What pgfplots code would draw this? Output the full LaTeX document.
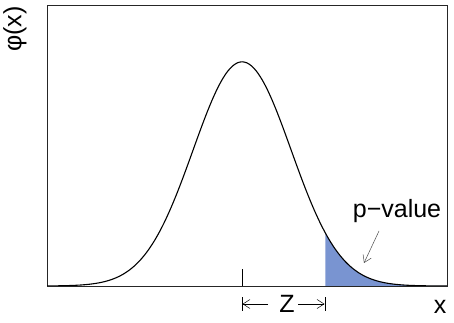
\documentclass[border=0pt]{standalone}
\usepackage{fontspec}
\setmainfont{Liberation Sans}
\usepackage{pgfplots}
\pgfplotsset{compat=1.18}
\usetikzlibrary{arrows.meta}
\definecolor{pfill}{RGB}{121,148,209}
\pgfplotstableread{
x y
-4.2 0.00006
-4.1 0.00009
-4.0 0.00013
-3.9 0.00020
-3.8 0.00029
-3.7 0.00042
-3.6 0.00061
-3.5 0.00087
-3.4 0.00123
-3.3 0.00172
-3.2 0.00238
-3.1 0.00327
-3.0 0.00443
-2.9 0.00595
-2.8 0.00792
-2.7 0.01042
-2.6 0.01358
-2.5 0.01753
-2.4 0.02239
-2.3 0.02833
-2.2 0.03547
-2.1 0.04398
-2.0 0.05399
-1.9 0.06562
-1.8 0.07895
-1.7 0.09405
-1.6 0.11092
-1.5 0.12952
-1.4 0.14973
-1.3 0.17137
-1.2 0.19419
-1.1 0.21785
-1.0 0.24197
-0.9 0.26609
-0.8 0.28969
-0.7 0.31225
-0.6 0.33322
-0.5 0.35207
-0.4 0.36827
-0.3 0.38139
-0.2 0.39104
-0.1 0.39695
0.0 0.39894
0.1 0.39695
0.2 0.39104
0.3 0.38139
0.4 0.36827
0.5 0.35207
0.6 0.33322
0.7 0.31225
0.8 0.28969
0.9 0.26609
1.0 0.24197
1.1 0.21785
1.2 0.19419
1.3 0.17137
1.4 0.14973
1.5 0.12952
1.6 0.11092
1.7 0.09405
1.8 0.07895
1.9 0.06562
2.0 0.05399
2.1 0.04398
2.2 0.03547
2.3 0.02833
2.4 0.02239
2.5 0.01753
2.6 0.01358
2.7 0.01042
2.8 0.00792
2.9 0.00595
3.0 0.00443
3.1 0.00327
3.2 0.00238
3.3 0.00172
3.4 0.00123
3.5 0.00087
3.6 0.00061
3.7 0.00042
3.8 0.00029
3.9 0.00020
4.0 0.00013
4.1 0.00009
4.2 0.00006
}\density
\pgfplotstableread{
x y
1.7 0.09405
1.8 0.07895
1.9 0.06562
2.0 0.05399
2.1 0.04398
2.2 0.03547
2.3 0.02833
2.4 0.02239
2.5 0.01753
2.6 0.01358
2.7 0.01042
2.8 0.00792
2.9 0.00595
3.0 0.00443
3.1 0.00327
3.2 0.00238
3.3 0.00172
3.4 0.00123
3.5 0.00087
3.6 0.00061
3.7 0.00042
3.8 0.00029
3.9 0.00020
4.0 0.00013
4.1 0.00009
4.2 0.00006
}\tail
\begin{document}
\begin{tikzpicture}
\useasboundingbox (0,0) rectangle (454pt,323pt);
\begin{axis}[
  at={(47pt,37pt)}, anchor=south west,
  width=400pt, height=281pt, scale only axis,
  xmin=-3.98, xmax=4.18, ymin=0, ymax=0.5,
  xtick={0}, xticklabels={}, ytick=\empty,
  xtick pos=bottom, tick align=inside,
  major tick length=17pt,
  tick style={line width=0.5pt, black},
  axis line style={line width=0.8pt, black!85},
]
\addplot[draw=none, fill=pfill] table[x=x,y=y] {\tail} \closedcycle;
\addplot[black, line width=1.1pt, smooth] table[x=x,y=y] {\density};
\end{axis}
\fontsize{25}{29}\selectfont
\node[rotate=90] at (15pt,294pt) {φ(x)};
\node[anchor=base] at (440pt,9pt) {x};
\node[anchor=base] at (287pt,10pt) {Z};
\node[anchor=base] at (397pt,105pt) {p−value};
\draw[line width=0.5pt, -{Straight Barb[length=7pt,width=9pt]}] (268pt,19pt) -- (242.5pt,19pt);
\draw[line width=0.5pt, -{Straight Barb[length=7pt,width=9pt]}] (298pt,19pt) -- (324.5pt,19pt);
\draw[line width=0.5pt] (242pt,12pt) -- (242pt,26pt);
\draw[line width=0.5pt] (325pt,12pt) -- (325pt,26pt);
\draw[line width=0.5pt, black!70, -{Straight Barb[length=7pt,width=9pt]}] (379pt,92pt) -- (364pt,60pt);
\end{tikzpicture}
\end{document}
